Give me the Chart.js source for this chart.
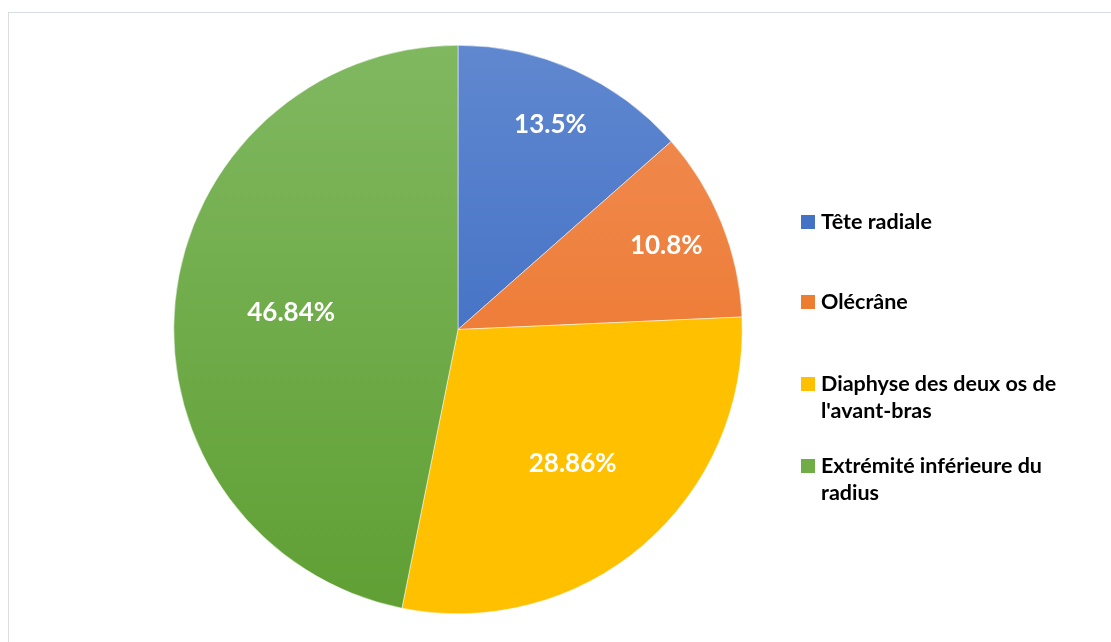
<!DOCTYPE html>
<html lang="fr">
<head>
<meta charset="utf-8">
<title>Répartition des fractures</title>
<script src="https://cdn.jsdelivr.net/npm/chart.js@4.4.1/dist/chart.umd.min.js"></script>
<style>
  html, body { margin: 0; padding: 0; background: #fff; }
  #wrap { position: relative; width: 1111px; height: 642px; overflow: hidden; }
  #frame {
    position: absolute; left: 8px; top: 12px; width: 1200px; height: 700px;
    border: 1px solid #d9dde3; box-sizing: border-box;
  }
  canvas { position: absolute; left: 0; top: 0; }
</style>
</head>
<body>
<div id="wrap">
  <div id="frame"></div>
  <canvas id="myChart" width="1111" height="642"></canvas>
</div>
<script>
// categories and values
const categories = [
  "Tête radiale",
  "Olécrâne",
  "Diaphyse des deux os de l'avant-bras",
  "Extrémité inférieure du radius",
];
const percentages = [13.5, 10.8, 28.86, 46.84];
const valueLabels = ["13.5%", "10.8%", "28.86%", "46.84%"];

// wrapped legend lines
const legendLines = [
  ["Tête radiale"],
  ["Olécrâne"],
  ["Diaphyse des deux os de", "l'avant-bras"],
  ["Extrémité inférieure du", "radius"],
];

// light (top) and dark (bottom) colour of each slice
const topColors = ["#6088d0", "#f08d55", "#ffc000", "#80b860"];
const bottomColors = ["#2f60bd", "#ec6e1c", "#ffc000", "#5f9f33"];
const legendColors = ["#4472c4", "#ed7d31", "#ffc000", "#70ad47"];

const font = "Lato, 'Open Sans', sans-serif";

function sliceGradient(context) {
  const chart = context.chart;
  const area = chart.chartArea;
  if (!area) return legendColors[context.dataIndex];
  const g = chart.ctx.createLinearGradient(0, area.top, 0, area.bottom);
  g.addColorStop(0, topColors[context.dataIndex]);
  g.addColorStop(1, bottomColors[context.dataIndex]);
  return g;
}

// percentage text inside each slice
const sliceLabels = {
  id: "sliceLabels",
  afterDatasetsDraw(chart) {
    const ctx = chart.ctx;
    const meta = chart.getDatasetMeta(0);
    const dist = [0.79, 0.79, 0.62, 0.59];
    ctx.save();
    ctx.font = "bold 26px " + font;
    ctx.fillStyle = "#ffffff";
    ctx.textAlign = "center";
    ctx.textBaseline = "middle";
    meta.data.forEach((arc, i) => {
      const p = arc.getProps(["x", "y", "startAngle", "endAngle", "outerRadius"], true);
      const mid = (p.startAngle + p.endAngle) / 2;
      const r = p.outerRadius * dist[i];
      ctx.fillText(valueLabels[i], p.x + Math.cos(mid) * r, p.y + Math.sin(mid) * r);
    });
    ctx.restore();
  },
};

// legend on the right with wrapped labels
const sideLegend = {
  id: "sideLegend",
  afterDraw(chart) {
    const ctx = chart.ctx;
    const rows = [222, 302, 384, 466];
    ctx.save();
    ctx.font = "bold 21.5px " + font;
    ctx.textBaseline = "middle";
    ctx.textAlign = "left";
    legendLines.forEach((lines, i) => {
      ctx.fillStyle = legendColors[i];
      ctx.fillRect(801, rows[i] - 7, 14, 14);
      ctx.fillStyle = "#000000";
      lines.forEach((t, k) => ctx.fillText(t, 821, rows[i] + k * 27));
    });
    ctx.restore();
  },
};

new Chart(document.getElementById("myChart"), {
  type: "pie",
  data: {
    labels: categories,
    datasets: [
      {
        data: percentages,
        backgroundColor: sliceGradient,
        borderColor: "#ffffff",
        borderWidth: 0.5,
      },
    ],
  },
  options: {
    responsive: false,
    animation: false,
    layout: { padding: { left: 173.5, right: 368.5, top: 45, bottom: 28 } },
    plugins: {
      legend: { display: false },
      tooltip: { enabled: false },
    },
  },
  plugins: [sliceLabels, sideLegend],
});
</script>
</body>
</html>
